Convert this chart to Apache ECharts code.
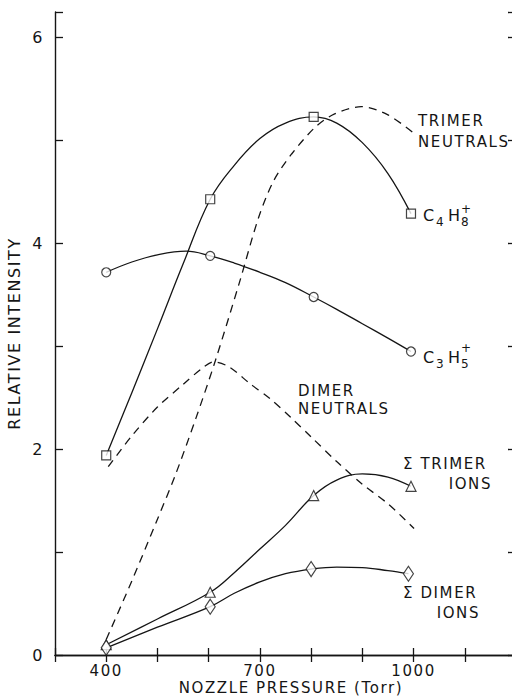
<!DOCTYPE html>
<html>
<head>
<meta charset="utf-8">
<script src="https://cdn.jsdelivr.net/npm/echarts@6/dist/echarts.min.js"></script>
<style>
  html, body { margin: 0; padding: 0; background: #fff; }
  #chart { width: 512px; height: 697px; }
  #chart text { letter-spacing: 1.6px; }
</style>
</head>
<body>
<div id="chart"></div>
<script>
// ---- data ----
const xTickLabels = [400, 700, 1000];
const yTickLabels = [0, 2, 4, 6];

// measured points (markers)
const c4h8Points   = [[400, 1.94], [603, 4.43], [805, 5.23], [995, 4.29]];
const c3h5Points   = [[400, 3.72], [603, 3.88], [805, 3.48], [995, 2.95]];
const trimerIonPts = [[400, 0.10], [603, 0.61], [805, 1.55], [995, 1.64]];
const dimerIonPts  = [[400, 0.07], [603, 0.47], [800, 0.835], [990, 0.79]];

// drawn curves
const c4h8Curve = [[400, 1.94], [450, 2.55], [500, 3.17], [550, 3.80], [603, 4.43], [650, 4.76],
                   [700, 5.02], [750, 5.17], [805, 5.23], [850, 5.17], [900, 4.98], [950, 4.68],
                   [995, 4.29]];
const c3h5Curve = [[400, 3.72], [450, 3.82], [500, 3.89], [556, 3.925], [603, 3.88], [650, 3.81],
                   [700, 3.72], [750, 3.62], [805, 3.48], [850, 3.36], [900, 3.22], [950, 3.08],
                   [995, 2.95]];
const trimerIonCurve = [[400, 0.10], [500, 0.35], [603, 0.61], [650, 0.80], [700, 1.03],
                        [750, 1.26], [805, 1.55], [850, 1.70], [900, 1.76], [950, 1.73], [995, 1.64]];
const dimerIonCurve = [[400, 0.07], [500, 0.27], [603, 0.47], [650, 0.60], [700, 0.71],
                       [750, 0.79], [800, 0.835], [850, 0.855], [900, 0.85], [950, 0.82], [990, 0.79]];
const trimerNeutrals = [[400, 0.15], [450, 0.72], [500, 1.32], [535, 1.75], [575, 2.30],
                        [613, 2.86], [660, 3.62], [698, 4.26], [727, 4.61], [762, 4.87],
                        [808, 5.13], [846, 5.26], [898, 5.33], [950, 5.25], [1001, 5.07]];
const dimerNeutrals = [[404, 1.83], [450, 2.13], [500, 2.41], [550, 2.63], [588, 2.79],
                       [610, 2.85], [640, 2.80], [680, 2.64], [720, 2.49], [760, 2.31],
                       [800, 2.12], [850, 1.88], [900, 1.66], [950, 1.47], [1001, 1.23]];

const INK = '#151515';
const FONT = '"DejaVu Sans", "Liberation Sans", sans-serif';

const chart = echarts.init(document.getElementById('chart'), null, { renderer: 'svg' });

function solid(data) {
  return { type: 'line', data: data, smooth: 0.4, symbol: 'none', showSymbol: false,
           lineStyle: { color: INK, width: 1.3 }, z: 2, silent: true };
}
function dashed(data) {
  return { type: 'line', data: data, smooth: 0.3, symbol: 'none', showSymbol: false,
           lineStyle: { color: INK, width: 1.3, type: [8, 6] }, z: 2, silent: true };
}
function markers(data, symbol, size) {
  return { type: 'scatter', data: data, symbol: symbol, symbolSize: size, z: 5, silent: true,
           itemStyle: { color: '#fff', borderColor: INK, borderWidth: 1.2 } };
}
function txt(text, x, y, size, align) {
  return { type: 'text', x: x, y: y, silent: true, z: 10,
           style: { text: text, fill: INK, font: size + 'px ' + FONT,
                    align: align || 'left', textAlign: align || 'left',
                    verticalAlign: 'middle', textVerticalAlign: 'middle' } };
}

const axisLineStyle = { show: true, lineStyle: { color: INK, width: 1.4 } };
const tickStyle = { show: true, inside: true, length: 7, lineStyle: { color: INK, width: 1.3 } };

chart.setOption({
  animation: false,
  backgroundColor: '#fff',
  grid: { left: 55, top: 12, right: -4, bottom: 42, containLabel: false, outerBoundsMode: 'none' },
  xAxis: [
    { type: 'value', min: 300, max: 1200, interval: 100, position: 'bottom',
      axisLine: axisLineStyle, axisTick: tickStyle, splitLine: { show: false },
      axisLabel: { color: INK, fontSize: 15, fontFamily: FONT, margin: 8,
                   formatter: v => xTickLabels.includes(v) ? String(v) : '' } },
    { type: 'value', min: 300, max: 1200, interval: 100, position: 'top',
      axisLine: axisLineStyle, axisTick: tickStyle, splitLine: { show: false },
      axisLabel: { show: false } }
  ],
  yAxis: [
    { type: 'value', min: 0, max: 6.25, interval: 1, position: 'left',
      axisLine: axisLineStyle, axisTick: Object.assign({}, tickStyle, { length: 8 }),
      splitLine: { show: false },
      axisLabel: { color: INK, fontSize: 16, fontFamily: FONT, margin: 11,
                   formatter: v => yTickLabels.includes(v) ? String(v) : '' },
      name: 'RELATIVE INTENSITY', nameLocation: 'middle', nameGap: 30, nameRotate: 90,
      nameTextStyle: { color: INK, fontSize: 16, fontFamily: FONT } },
    { type: 'value', min: 0, max: 6.25, interval: 1, position: 'right',
      axisLine: axisLineStyle, axisTick: Object.assign({}, tickStyle, { length: 8 }),
      splitLine: { show: false }, axisLabel: { show: false } }
  ],
  series: [
    dashed(trimerNeutrals),
    dashed(dimerNeutrals),
    solid(c4h8Curve),
    solid(c3h5Curve),
    solid(trimerIonCurve),
    solid(dimerIonCurve),
    markers(c4h8Points, 'rect', 9),
    markers(c3h5Points, 'circle', 9),
    markers(trimerIonPts, 'triangle', 10),
    markers(dimerIonPts, 'diamond', [10, 15])
  ],
  graphic: [
    txt('NOZZLE PRESSURE (Torr)', 291, 688, 15, 'center'),
    txt('TRIMER', 418, 121, 15),
    txt('NEUTRALS', 418, 142, 15),
    txt('C', 423, 215, 16), txt('4', 436, 222, 12), txt('H', 448, 215, 16),
    txt('8', 461, 222, 12), txt('+', 461, 209, 12),
    txt('C', 423, 357, 16), txt('3', 436, 364, 12), txt('H', 448, 357, 16),
    txt('5', 461, 364, 12), txt('+', 461, 348, 12),
    txt('DIMER', 298, 391, 15),
    txt('NEUTRALS', 298, 409, 15),
    txt('\u03A3 TRIMER', 403, 464, 15),
    txt('IONS', 492, 484, 15, 'right'),
    txt('\u03A3 DIMER', 403, 593, 15),
    txt('IONS', 480, 613, 15, 'right')
  ]
});
</script>
</body>
</html>
